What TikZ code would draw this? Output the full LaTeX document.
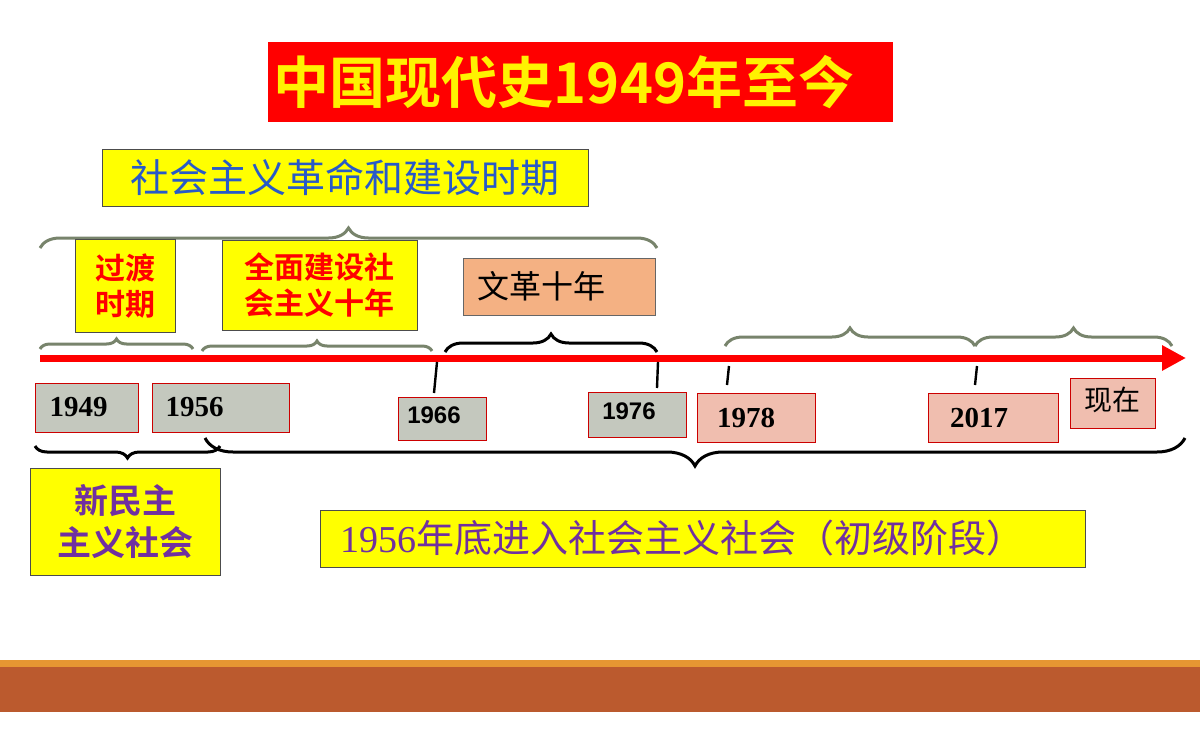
\documentclass[tikz,border=0pt]{standalone}
\usepackage{fontspec}
\setmainfont{Liberation Serif}
\newfontfamily\cjk{Noto Sans CJK SC}
\newfontfamily\cjkb{Noto Sans CJK SC Bold}
\newfontfamily\arialf{Liberation Sans}
\usetikzlibrary{decorations.pathreplacing,arrows.meta}
\definecolor{bgreen}{RGB}{120,132,108}
\definecolor{ybox}{RGB}{255,255,0}
\definecolor{gbox}{RGB}{196,200,190}
\definecolor{pbox}{RGB}{240,190,175}
\definecolor{obox}{RGB}{244,177,131}
\definecolor{purp}{RGB}{112,48,160}
\definecolor{blu}{RGB}{40,90,200}
\definecolor{brn}{RGB}{187,90,46}
\definecolor{orl}{RGB}{230,150,50}
\tikzset{
 ybx/.style={draw=black!70,fill=ybox,line width=0.4pt},
 yr/.style={draw=red!80!black,line width=0.4pt},
 brc/.style={decorate,decoration={brace,amplitude=#1},line width=1.5pt},
 brc/.default=8
}
\begin{document}
\begin{tikzpicture}[x=0.5pt,y=-0.5pt]
\useasboundingbox (0,0) rectangle (1200,750);
\fill[white] (0,0) rectangle (1200,750);
% title
\node[fill=red,minimum width=312.5pt,minimum height=40pt,text=yellow,font=\cjkb\fontsize{28}{28}\selectfont,inner sep=0pt] (title) at (580,82) {\hspace*{-16pt}中国现代史1949年至今};
% top box
\node[ybx,minimum width=243pt,minimum height=28.5pt,inner sep=0pt,text=blu,font=\cjk\fontsize{19.5}{19.5}\selectfont] (rev) at (345,178) {社会主义革命和建设时期};
\draw[brc=10,bgreen] (40,248) -- (657,248);
\node[ybx,minimum width=50pt,minimum height=46.5pt,inner sep=0pt,text=red,font=\cjkb\fontsize{15}{18}\selectfont,align=center] (gd) at (125,286) {过渡\\时期};
\node[ybx,minimum width=97.5pt,minimum height=45pt,inner sep=0pt,text=red,font=\cjkb\fontsize{15}{18}\selectfont,align=center] (qm) at (319.5,285) {全面建设社\\会主义十年};
\node[draw=black!60,fill=obox,minimum width=96pt,minimum height=28.5pt,inner sep=0pt,font=\cjk\fontsize{16}{16}\selectfont] (wg) at (559,286.5) {\hspace*{-18pt}文革十年};
\draw[brc=5,bgreen] (40,349) -- (193,349);
\draw[brc=5,bgreen] (202,351) -- (432,351);
\draw[brc=9,black] (445,352) -- (657,352);
\draw[brc=9,bgreen] (725,346) -- (975,346);
\draw[brc=9,bgreen] (975,346) -- (1172,346);
% arrow
\coordinate (as) at (40,358); \coordinate (ae) at (1186,358);
\draw[red,line width=3.5pt,-{Triangle[length=12pt,width=12pt]}] (as) -- (ae);
\draw[line width=1.2pt] (437,362) -- (434,393);
\draw[line width=1.2pt] (658,362) -- (657,388);
\draw[line width=1.2pt] (729,366) -- (727,385);
\draw[line width=1.2pt] (977,366) -- (975,385);
% year boxes
\tikzset{yb/.style={yr,fill=gbox,inner sep=0pt,font=\bfseries\fontsize{14.5}{14.5}\selectfont}}
\node[yb,minimum width=51.5pt,minimum height=24.5pt] (y49) at (86.5,407.5) {1949\hspace*{8pt}};
\node[yb,minimum width=68.5pt,minimum height=24.5pt] (y56) at (220.5,407.5) {\hspace*{-26pt}1956};
\node[yb,minimum width=44pt,minimum height=21.5pt,font=\arialf\bfseries\fontsize{12}{12}\selectfont] (y66) at (442,418.5) {\raisebox{3pt}{1966}\hspace*{8pt}};
\node[yb,minimum width=49pt,minimum height=22.5pt,font=\arialf\bfseries\fontsize{12}{12}\selectfont] (y76) at (637,414.5) {\raisebox{3pt}{1976}\hspace*{8pt}};
\node[yb,fill=pbox,minimum width=59pt,minimum height=24.5pt] (y78) at (756,417.5) {1978\hspace*{10pt}};
\node[yb,fill=pbox,minimum width=65pt,minimum height=24.5pt] (y17) at (993,417.5) {2017\hspace*{14pt}};
\node[yb,fill=pbox,minimum width=42.5pt,minimum height=25pt,font=\cjk\fontsize{14}{14}\selectfont] (now) at (1112.5,403) {\raisebox{4pt}{现在}};
% lower braces
\draw[brc=6,black] (220,446) -- (35,446);
\draw[brc=14,black] (1185,438) -- (205,438);
\node[ybx,minimum width=95pt,minimum height=53.5pt,inner sep=0pt,text=purp,font=\cjkb\fontsize{17}{21}\selectfont,align=center] (xm) at (125,521.5) {新民主\\主义社会};
\node[ybx,minimum width=382.5pt,minimum height=28.5pt,inner sep=0pt,text=purp,font=\fontsize{19}{19}\selectfont] (sh) at (702.5,538.5) {1956{\cjk 年底进入社会主义社会（初级阶段）}\hspace*{20pt}};
% bottom bars
\fill[orl] (0,660) rectangle (1200,667);
\fill[brn] (0,667) rectangle (1200,712);
\end{tikzpicture}
\end{document}
